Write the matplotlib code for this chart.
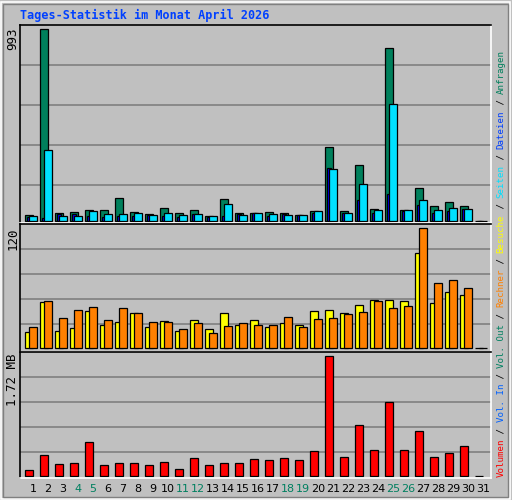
import matplotlib.pyplot as plt
import numpy as np
from matplotlib.patches import Rectangle

days = list(range(1, 32))
weekend = [4, 5, 11, 12, 18, 19, 25, 26]

hits = [28, 993, 38, 45, 55, 55, 118, 45, 35, 66, 38, 55, 22, 112, 38, 38, 45, 38, 28, 50,
        382, 50, 289, 61, 896, 55, 170, 76, 97, 76, 0]
files = [22, 365, 22, 22, 50, 35, 35, 40, 29, 40, 29, 35, 22, 86, 29, 40, 35, 29, 28, 50,
         268, 40, 190, 55, 604, 55, 107, 55, 66, 61, 0]
pages = [17, 12, 33, 33, 24, 19, 24, 24, 29, 24, 19, 33, 21, 24, 33, 38, 24, 33, 28, 40,
         273, 38, 107, 38, 138, 50, 81, 38, 50, 61, 0]
visits = [16, 46, 17, 20, 37, 23, 26, 35, 21, 27, 17, 28, 19, 35, 23, 28, 21, 25, 23, 37,
          38, 35, 43, 48, 48, 47, 95, 45, 56, 53, 0]
hosts = [21, 47, 30, 38, 41, 28, 40, 35, 26, 26, 19, 25, 15, 22, 25, 23, 23, 31, 21, 29,
         30, 34, 36, 47, 40, 42, 120, 65, 68, 60, 0]
volume_mb = [0.086, 0.30, 0.17, 0.19, 0.49, 0.16, 0.19, 0.19, 0.16, 0.20, 0.10, 0.26, 0.16,
             0.19, 0.19, 0.24, 0.23, 0.26, 0.23, 0.36, 1.72, 0.27, 0.73, 0.37, 1.06, 0.37,
             0.65, 0.27, 0.33, 0.43, 0.0]

BG = '#C0C0C0'
GREEN, BLUE, CYAN = '#00805C', '#0000FF', '#00E0FF'
YELLOW, ORANGE, RED = '#FFFF00', '#FF8000', '#FF0000'
MONO = 'DejaVu Sans Mono'

W, H = 512, 500
fig = plt.figure(figsize=(5.12, 5.0), dpi=100, facecolor=BG)

# outer 3d-ish frame
fig.patches.append(Rectangle((1 / W, 1 / H), 509 / W, 497 / H, transform=fig.transFigure,
                             fill=False, edgecolor='white', lw=1.2))
fig.patches.append(Rectangle((3 / W, 3 / H), 505 / W, 493 / H, transform=fig.transFigure,
                             fill=False, edgecolor='#808080', lw=1.0))


def make_ax(top, bottom, ylim, grid):
    ax = fig.add_axes([20 / W, 1 - bottom / H, 471 / W, (bottom - top) / H])
    ax.set_facecolor(BG)
    ax.set_xlim(0.133, 31.53)
    ax.set_ylim(*ylim)
    ax.set_xticks([])
    ax.set_yticks([])
    for g in grid:
        ax.axhline(g, color='#808080', lw=1.2, zorder=0)
    ax.spines['top'].set_color('black')
    ax.spines['left'].set_color('black')
    ax.spines['bottom'].set_color('white')
    ax.spines['right'].set_color('white')
    for s in ax.spines.values():
        s.set_linewidth(1.2)
    return ax


x = np.array(days)
kw = dict(edgecolor='black', linewidth=0.9, align='edge')

ax1 = make_ax(25, 223, (-12, 1015), [184, 392, 599, 807])
ax1.bar(x - 0.51, hits, width=0.49, color=GREEN, **kw)
ax1.bar(x - 0.38, pages, width=0.23, color=BLUE, **kw)
ax1.bar(x - 0.25, files, width=0.5, color=CYAN, **kw)

ax2 = make_ax(224, 351.7, (-3.4, 124.3), [24.3, 49, 74.3, 99])
ax2.bar(x - 0.51, visits, width=0.49, color=YELLOW, **kw)
ax2.bar(x - 0.25, hosts, width=0.5, color=ORANGE, **kw)

ax3 = make_ax(352, 478, (-0.029, 1.777), [0.344, 0.702, 1.06, 1.419])
ax3.bar(x - 0.51, volume_mb, width=0.49, color=RED, **kw)

# title
fig.text(20 / W, 1 - 15 / H, 'Tages-Statistik im Monat April 2026', color='#0040FF',
         family=MONO, weight='bold', fontsize=8.5, va='center', ha='left')

# left scale labels
for y, s in [(27, '993'), (227, '120'), (354, '1.72 MB')]:
    fig.text(13 / W, 1 - y / H, s, rotation=90, family=MONO, fontsize=9,
             ha='center', va='top')

# day labels
for d in days:
    fig.text((33 + (d - 1) * 15) / W, 1 - 489 / H, str(d), family='DejaVu Sans',
             fontsize=8, ha='center', va='center',
             color='#008060' if d in weekend else 'black')

# right legend strip
parts = [('Volumen', RED), (' / ', 'black'), ('Vol. In', '#0060FF'), (' / ', 'black'),
         ('Vol. Out', '#008060'), (' / ', 'black'), ('Rechner', ORANGE), (' / ', 'black'),
         ('Besuche', YELLOW), (' / ', 'black'), ('Seiten', CYAN), (' / ', 'black'),
         ('Dateien', '#0040FF'), (' / ', 'black'), ('Anfragen', GREEN)]
total = sum(len(p) for p, _ in parts)
step = (477 - 50) / total
pos = 477
for p, c in parts:
    fig.text(501 / W, 1 - pos / H, p, rotation=90, family=MONO, color=c,
             fontsize=step / 0.6 * 0.72, ha='center', va='bottom')
    pos -= len(p) * step

fig.savefig('out.png', dpi=100, facecolor=BG)
